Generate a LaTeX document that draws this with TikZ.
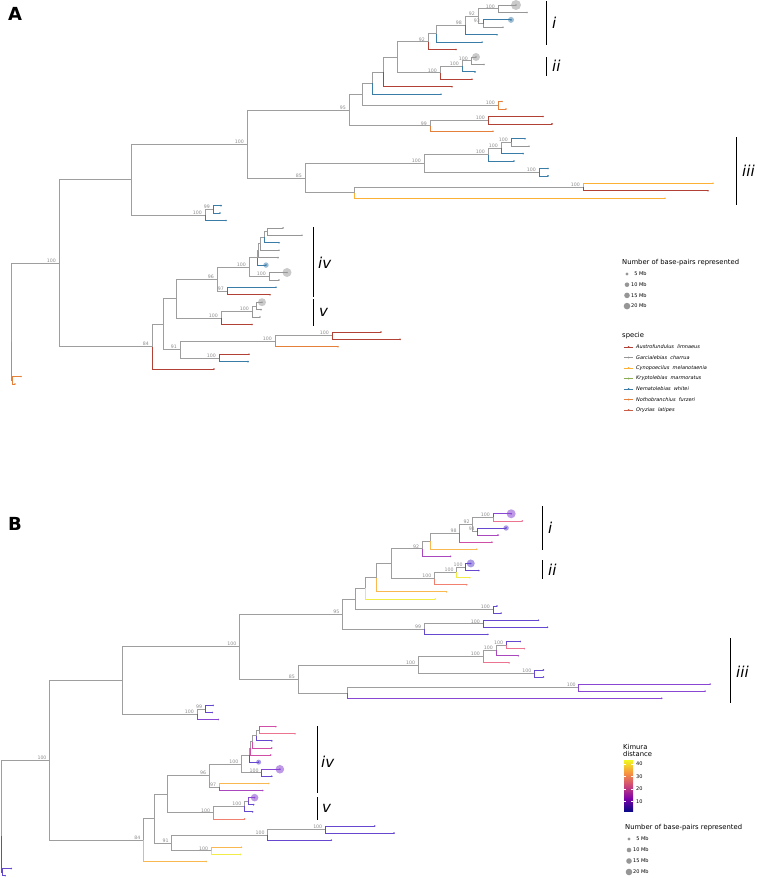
\documentclass[tikz,border=0pt]{standalone}
\usepackage{fontspec}
\setmainfont{DejaVu Sans}
\usetikzlibrary{positioning}
\definecolor{austro}{RGB}{178,64,52}
\definecolor{garcia}{RGB}{150,150,150}
\definecolor{cyno}{RGB}{252,176,52}
\definecolor{krypto}{RGB}{140,172,80}
\definecolor{nemato}{RGB}{58,124,168}
\definecolor{notho}{RGB}{228,128,58}
\definecolor{oryz}{RGB}{205,92,70}
\definecolor{innergray}{RGB}{158,158,158}
\definecolor{bootgray}{RGB}{140,140,140}
\definecolor{kdeep}{RGB}{102,72,208}
\definecolor{kpurp}{RGB}{136,70,210}
\definecolor{kviol}{RGB}{170,70,190}
\definecolor{kmag}{RGB}{208,78,165}
\definecolor{kpink}{RGB}{236,116,145}
\definecolor{ksalm}{RGB}{242,128,112}
\definecolor{korng}{RGB}{250,185,80}
\definecolor{kyell}{RGB}{242,236,70}
\definecolor{pl0}{RGB}{13,8,135}
\definecolor{pl1}{RGB}{126,3,168}
\definecolor{pl2}{RGB}{204,71,120}
\definecolor{pl3}{RGB}{248,149,64}
\definecolor{pl4}{RGB}{240,249,33}
\pgfdeclareverticalshading{plasma}{100bp}{color(0bp)=(pl0); color(25bp)=(pl0); color(37.5bp)=(pl1); color(50bp)=(pl2); color(62.5bp)=(pl3); color(75bp)=(pl4); color(100bp)=(pl4)}

\tikzset{
  branch/.style={line width=0.75pt},
  boot/.style={anchor=south east, inner sep=0.4pt, xshift=-2.5pt, text=bootgray, font=\fontsize{4.7}{5}\selectfont},
  cladebar/.style={line width=0.9pt},
  cladelab/.style={anchor=west, inner sep=0pt, font=\fontsize{15}{15}\selectfont\itshape},
  legtitle/.style={anchor=west, inner sep=0pt, font=\fontsize{6.8}{7.5}\selectfont},
  legtext/.style={anchor=west, inner sep=0pt, font=\fontsize{5}{6}\selectfont},
  paneltag/.style={anchor=north west, inner sep=0pt, font=\fontsize{18}{18}\selectfont\bfseries}
}

% tree positions: x in px, y as tip index
\newcommand{\treecoords}{%
  \foreach \n/\x in {1/516,2/527,3/511,4/503,5/497,6/482,7/456,8/476,9/484,10/475,11/472,12/452,13/441,14/502,15/506,16/543,17/552,18/493,19/525,20/529,21/523,22/514,23/548,24/548,25/713,26/708,27/665,28/221,29/220,30/226,31/283,32/302,33/279,34/279,35/278,36/266,37/287,38/279,39/276,40/270,41/262,42/261,43/260,44/252,45/381,46/400,47/338,48/249,49/248,50/214,51/21,52/15}
    \coordinate (t\n) at (\x,\n);
  \foreach \n/\x/\i in {root/11/46.4, n1/59/35.73, n2/131/24.48, n3/247/19.7, n95/349/15.13, a1/362/13.0, b/372/11.51, c/383/10.02, d/397/8.03, e/428/5.94, e1/436/4.88, e2/465/3.75, e3/478/2.5, a100/498/1.5, n93/483/3.5, f/440/10.13, g/462/9.25, h/471/8.5, o1/498/14.5, n99/430/17.25, r1/488/16.5, n85/305/24.28, nb/424/22.31, p/488/21.13, p1/501/20.25, p2/511/19.5, q/539/23.5, l/354/26.25, r/583/25.5, sb/205/29.25, s/213/28.5, n8/152/46.97, t/163/43.94, u/176/40.5, y/217/37.88, y1/249/36.27, y2/227/39.5, y3e/257/35.03, y3d/258/34.06, y3c/260/33.13, y3b/264/32.25, y3a/267/31.5, y4/269/37.5, z/221/43.13, z1/252/42.25, z2/256/41.5, v/180/47.38, w/275/46.25, w1/332/45.5, x/219/48.5, o2/12/51.5}
    \coordinate (\n) at (\x,\i);
}
\newcommand{\innerbranches}{%
  \foreach \p/\c in {root/n1, n1/n2, n1/n8, n2/n3, n2/sb, n3/n95, n3/n85, n95/a1, n95/n99, a1/b, a1/o1, b/c, c/d, d/e, d/f, e/e1, e1/e2, e2/e3, e3/a100, e3/n93, f/g, g/h, n99/r1, n85/nb, n85/l, nb/p, nb/q, p/p1, p1/p2, l/r, sb/s, n8/t, t/u, t/v, u/y, u/z, y/y1, y/y2, y1/y3e, y1/y4, y3e/y3d, y3d/y3c, y3c/y3b, y3b/y3a, z/z1, z1/z2, v/w, v/x, w/w1}
    \draw[branch, innergray] (\p) |- (\c);
}
\newcommand{\bootlabels}{%
  \foreach \n/\l in {n1/100, n3/100, n95/95, n85/85, e/92, e2/98, e3/92, a100/100, n93/93, f/100, g/100, h/100, o1/100, n99/99, r1/100, nb/100, p/100, p1/100, p2/100, q/100, r/100, sb/100, s/99, n8/84, v/91, w/100, w1/100, x/100, y/96, y1/100, y2/97, y4/100, z/100, z1/100}
    \node[boot] (bl-\n) at (\n) {\l};
}

\begin{document}
\begin{tikzpicture}[x=1pt, y=-1pt]
  \useasboundingbox (0,0) rectangle (756,878);

  % panel A
  \node[paneltag] (tagA) at (8,7) {A};
  \begin{scope}[x=1pt, y=-7.43pt, yshift=2.43pt]
    \treecoords
    \innerbranches
    \draw[branch, notho] (root) |- (o2);
    \foreach \p/\n/\col in {a100/1/garcia, a100/2/garcia, n93/3/nemato, n93/4/garcia, e2/5/nemato, e1/6/nemato, e/7/austro, h/8/garcia, h/9/garcia, g/10/nemato, f/11/austro, c/12/austro, b/13/nemato, o1/14/notho, o1/15/notho, r1/16/austro, r1/17/austro, n99/18/notho, p2/19/nemato, p2/20/garcia, p1/21/nemato, p/22/nemato, q/23/nemato, q/24/nemato, r/25/cyno, r/26/austro, l/27/cyno, s/28/nemato, s/29/nemato, sb/30/nemato, y3a/31/garcia, y3a/32/garcia, y3b/33/nemato, y3c/34/garcia, y3d/35/garcia, y3e/36/nemato, y4/37/garcia, y4/38/garcia, y2/39/nemato, y2/40/austro, z2/41/garcia, z2/42/garcia, z1/43/garcia, z/44/austro, w1/45/austro, w1/46/austro, w/47/notho, x/48/austro, x/49/nemato, n8/50/austro, o2/51/notho, o2/52/notho}
    {
      \draw[branch, \col] (\p) |- (t\n);
      \fill[\col] (t\n) circle (0.9pt);
    }
    \foreach \n/\r/\col in {1/5pt/garcia, 3/3pt/nemato, 8/4pt/garcia, 36/2.7pt/nemato, 37/4.5pt/garcia, 41/4pt/garcia}
      \fill[\col, opacity=0.5] (t\n) circle (\r);
    \bootlabels
  \end{scope}

  \draw[cladebar] (546,1) -- (546,45);
  \node[cladelab] (cA1) at (552,23) {i};
  \draw[cladebar] (546,57) -- (546,76);
  \node[cladelab] (cA2) at (552,66) {ii};
  \draw[cladebar] (736,137) -- (736,205);
  \node[cladelab] (cA3) at (742,171) {iii};
  \draw[cladebar] (313,227) -- (313,297);
  \node[cladelab] (cA4) at (318,263) {iv};
  \draw[cladebar] (313,299) -- (313,326);
  \node[cladelab] (cA5) at (319,312) {v};

  % legend A
  \node[legtitle] (sizeA) at (622,263) {Number of base-pairs represented};
  \foreach \i/\r/\l in {0/1.7pt/\hphantom{0}5 Mb, 1/2.3pt/10 Mb, 2/2.8pt/15 Mb, 3/3.3pt/20 Mb}
  {
    \coordinate (sA\i) at (627,274+10.7*\i);
    \fill[garcia] (sA\i) circle (\r);
    \node[legtext, right=4pt of sA\i] (sAl\i) {\l};
  }
  \node[legtitle] (specA) at (622,336) {specie};
  \foreach \i/\col/\l in {0/austro/Austrofundulus\ \ limnaeus, 1/garcia/Garcialebias\ \ charrua, 2/cyno/Cynopoecilus\ \ melanotaenia, 3/krypto/Kryptolebias\ \ marmoratus, 4/nemato/Nematolebias\ \ whitei, 5/notho/Nothobranchius\ \ furzeri, 6/oryz/Oryzias\ \ latipes}
  {
    \coordinate (kA\i) at (628.5,347+10.5*\i);
    \draw[\col, line width=0.8pt] ([xshift=-4.5pt]kA\i) -- ([xshift=4.5pt]kA\i);
    \fill[\col] (kA\i) circle (1pt);
    \node[legtext, right=7.5pt of kA\i] (kAl\i) {\itshape\l};
  }

  % panel B
  \node[paneltag] (tagB) at (8,517) {B};
  \begin{scope}[x=1.01pt, y=-7.096pt, xshift=-10pt, yshift=-506.68pt]
    \treecoords
    \innerbranches
    \draw[branch, kdeep] (root) |- (o2);
    \foreach \p/\n/\col in {a100/1/kpurp, a100/2/kpink, n93/3/kdeep, n93/4/kviol, e2/5/kmag, e1/6/korng, e/7/kviol, h/8/kdeep, h/9/kdeep, g/10/kyell, f/11/ksalm, c/12/korng, b/13/kyell, o1/14/kdeep, o1/15/kdeep, r1/16/kdeep, r1/17/kdeep, n99/18/kdeep, p2/19/kdeep, p2/20/kpink, p1/21/kviol, p/22/kpink, q/23/kdeep, q/24/kdeep, r/25/kpurp, r/26/kpurp, l/27/kpurp, s/28/kdeep, s/29/kdeep, sb/30/kpurp, y3a/31/kmag, y3a/32/kpink, y3b/33/kdeep, y3c/34/kmag, y3d/35/kmag, y3e/36/kdeep, y4/37/kpurp, y4/38/kdeep, y2/39/korng, y2/40/kviol, z2/41/kpurp, z2/42/kdeep, z1/43/kdeep, z/44/ksalm, w1/45/kdeep, w1/46/kdeep, w/47/kdeep, x/48/korng, x/49/kyell, n8/50/korng, o2/51/kdeep, o2/52/kdeep}
    {
      \draw[branch, \col] (\p) |- (t\n);
      \fill[\col] (t\n) circle (0.9pt);
    }
    \foreach \n/\r/\col in {1/4.5pt/kpurp, 3/2.7pt/kdeep, 8/4pt/kdeep, 36/2.5pt/kdeep, 37/4.3pt/kpurp, 41/3.8pt/kpurp}
      \fill[\col, opacity=0.55] (t\n) circle (\r);
    \bootlabels
  \end{scope}

  \draw[cladebar] (542,506) -- (542,550);
  \node[cladelab] (cB1) at (548,528) {i};
  \draw[cladebar] (542,560) -- (542,579);
  \node[cladelab] (cB2) at (548,570) {ii};
  \draw[cladebar] (730,638) -- (730,703);
  \node[cladelab] (cB3) at (736,672) {iii};
  \draw[cladebar] (317,726) -- (317,793);
  \node[cladelab] (cB4) at (321,762) {iv};
  \draw[cladebar] (317,797) -- (317,820);
  \node[cladelab] (cB5) at (322,808) {v};

  % legend B
  \node[legtitle, align=left, anchor=south west] (kimB) at (623,757) {Kimura\\distance};
  \shade[shading=plasma] (624,760) rectangle (633,811);
  \foreach \i/\l in {0/40, 1/30, 2/20, 3/10}
  {
    \coordinate (cb\i) at (633,764+12.4*\i);
    \draw[white, line width=0.5pt] (cb\i) -- ++(-1.8,0);
    \draw[white, line width=0.5pt] ([xshift=-9pt]cb\i) -- ++(1.8,0);
    \node[legtext, right=3pt of cb\i] (cbl\i) {\l};
  }
  \node[legtitle] (sizeB) at (625,828) {Number of base-pairs represented};
  \foreach \i/\r/\l in {0/1.7pt/\hphantom{0}5 Mb, 1/2.3pt/10 Mb, 2/2.8pt/15 Mb, 3/3.3pt/20 Mb}
  {
    \coordinate (sB\i) at (629,839+11*\i);
    \fill[garcia] (sB\i) circle (\r);
    \node[legtext, right=4pt of sB\i] (sBl\i) {\l};
  }
\end{tikzpicture}
\end{document}
